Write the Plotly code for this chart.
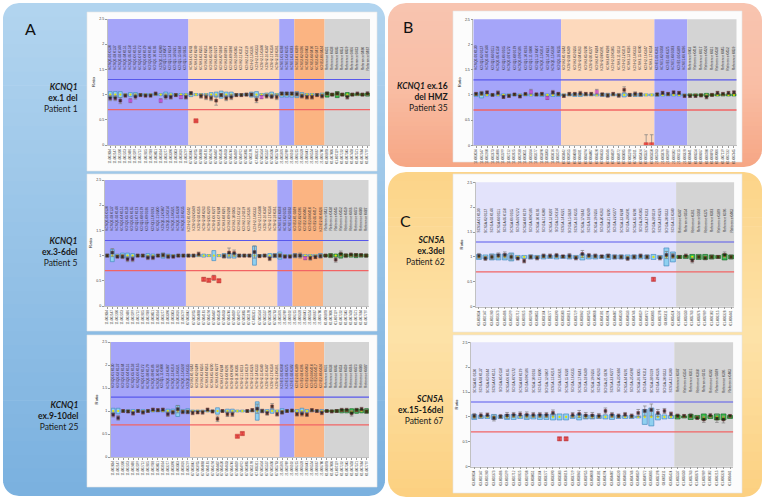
import math
import plotly.graph_objects as go

W, H = 765, 501

# ---------------- data ----------------
KCNQ1_BANDS = ["blue", "peach", "blue", "orange", "gray"]
KCNQ1_COUNTS = [16, 18, 3, 6, 9]
KCNQ1_GENES = ["KCNQ1", "KCNH2", "KCNE1", "KCNE2", "Reference"]
KCNQ1_CHROM = ["11", "07", "21", "21", "01"]

B_BANDS = ["blue", "peach", "blue", "gray"]
B_COUNTS = [16, 17, 6, 9]
B_GENES = ["KCNQ1", "KCNH2", "KCNE1", "Reference"]
B_CHROM = ["11", "07", "21", "01"]

SCN5A_BANDS = ["lavender", "gray"]
SCN5A_COUNTS = [31, 9]
SCN5A_GENES = ["SCN5A", "Reference"]
SCN5A_CHROM = ["03", "01"]

A1_ratio = [0.93, 0.93, 0.88, 0.98, 0.88, 0.96, 0.99, 0.98, 0.98, 1.02, 0.88, 0.96, 0.95, 0.99, 0.95, 0.95,
            1.03, 0.48, 0.97, 0.95, 0.93, 0.88, 0.99, 0.93, 0.95, 0.99, 0.99, 1.00, 1.00, 0.90, 0.95, 0.97, 0.96, 0.95,
            1.02, 1.02, 1.02,
            1.01, 0.97, 0.95, 0.95, 0.99, 0.97,
            1.02, 1.00, 1.02, 1.00, 0.95, 1.00, 1.02, 1.00, 1.02]
A1_err = [0.05, 0.05, 0.06, 0.03, 0.04, 0.05, 0.03, 0.03, 0.03, 0.03, 0.04, 0.05, 0.04, 0.03, 0.03, 0.04,
          0.03, 0.02, 0.04, 0.05, 0.05, 0.09, 0.03, 0.05, 0.05, 0.03, 0.03, 0.03, 0.03, 0.06, 0.03, 0.04, 0.04, 0.05,
          0.03, 0.03, 0.03,
          0.04, 0.04, 0.04, 0.04, 0.03, 0.04,
          0.03, 0.03, 0.03, 0.03, 0.04, 0.03, 0.03, 0.03, 0.04]
A1_box = [0.06, 0.06, 0.06, 0.02, 0.04, 0.04, 0.02, 0.02, 0.02, 0.02, 0.02, 0.05, 0.03, 0.02, 0.02, 0.02,
          0.04, 0.02, 0.02, 0.02, 0.04, 0.05, 0.07, 0.05, 0.05, 0.02, 0.02, 0.02, 0.05, 0.06, 0.02, 0.03, 0.05, 0.02,
          0.05, 0.05, 0.05,
          0.06, 0.04, 0.02, 0.02, 0.02, 0.03,
          0.05, 0.02, 0.06, 0.02, 0.04, 0.02, 0.02, 0.02, 0.03]
A1_red = [17]
A1_mag = [4, 10, 14, 30]

A2_ratio = [1.00, 1.06, 0.98, 0.98, 0.93, 0.93, 1.00, 1.00, 0.96, 0.96, 1.00, 1.01, 0.98, 0.98, 1.00, 1.00,
            1.00, 1.00, 1.03, 0.53, 0.51, 0.56, 0.50, 0.99, 1.06, 1.05, 1.00, 1.00, 1.00, 1.07, 0.99, 1.00, 0.94, 1.00,
            1.00, 0.98, 0.98,
            1.00, 1.00, 0.95, 0.95, 0.97, 0.99,
            1.00, 1.00, 0.92, 1.03, 1.00, 1.02, 1.01, 1.01, 1.00]
A2_err = [0.03, 0.08, 0.03, 0.04, 0.05, 0.05, 0.03, 0.03, 0.04, 0.04, 0.03, 0.04, 0.04, 0.03, 0.03, 0.03,
          0.03, 0.03, 0.04, 0.03, 0.03, 0.05, 0.03, 0.04, 0.09, 0.06, 0.03, 0.03, 0.03, 0.12, 0.03, 0.03, 0.04, 0.03,
          0.04, 0.03, 0.03,
          0.04, 0.05, 0.03, 0.04, 0.03, 0.04,
          0.03, 0.03, 0.05, 0.06, 0.04, 0.03, 0.03, 0.03, 0.03]
A2_box = [0.03, 0.12, 0.03, 0.05, 0.05, 0.04, 0.02, 0.02, 0.04, 0.03, 0.02, 0.05, 0.03, 0.02, 0.02, 0.02,
          0.02, 0.02, 0.02, 0.03, 0.02, 0.10, 0.02, 0.04, 0.05, 0.05, 0.02, 0.02, 0.02, 0.19, 0.02, 0.02, 0.04, 0.04,
          0.07, 0.02, 0.02,
          0.04, 0.03, 0.02, 0.02, 0.02, 0.04,
          0.02, 0.04, 0.03, 0.05, 0.03, 0.03, 0.04, 0.03, 0.03]
A2_red = [19, 20, 21, 22]
A2_mag = [39]

A3_ratio = [0.92, 0.85, 1.00, 0.99, 0.95, 1.00, 0.97, 1.00, 1.03, 1.02, 1.03, 0.93, 0.97, 1.04, 0.98, 0.98,
            0.96, 0.97, 0.97, 1.03, 0.99, 0.83, 1.00, 0.93, 0.93, 0.45, 0.51, 1.00, 1.02, 1.05, 1.00, 0.95, 1.10, 0.93,
            0.97, 1.00, 1.01,
            0.93, 0.94, 0.92, 1.02, 1.00, 0.96,
            1.00, 0.99, 1.00, 1.02, 1.02, 0.95, 1.02, 1.04, 0.99]
A3_err = [0.05, 0.05, 0.03, 0.03, 0.04, 0.03, 0.04, 0.03, 0.03, 0.03, 0.03, 0.05, 0.04, 0.08, 0.04, 0.04,
          0.04, 0.03, 0.04, 0.03, 0.03, 0.06, 0.03, 0.05, 0.05, 0.02, 0.03, 0.03, 0.03, 0.10, 0.04, 0.04, 0.06, 0.04,
          0.04, 0.03, 0.03,
          0.04, 0.05, 0.04, 0.03, 0.03, 0.04,
          0.03, 0.03, 0.03, 0.04, 0.04, 0.06, 0.04, 0.04, 0.04]
A3_box = [0.06, 0.06, 0.02, 0.03, 0.03, 0.02, 0.03, 0.02, 0.02, 0.02, 0.02, 0.04, 0.04, 0.12, 0.03, 0.05,
          0.02, 0.02, 0.02, 0.02, 0.02, 0.07, 0.02, 0.04, 0.04, 0.02, 0.02, 0.02, 0.02, 0.20, 0.03, 0.03, 0.05, 0.02,
          0.05, 0.02, 0.02,
          0.03, 0.06, 0.03, 0.02, 0.02, 0.03,
          0.02, 0.02, 0.03, 0.04, 0.04, 0.05, 0.05, 0.04, 0.05]
A3_red = [25, 26]
A3_mag = []

B_ratio = [1.02, 1.03, 1.05, 1.00, 1.04, 0.96, 0.98, 1.01, 0.97, 1.02, 1.06, 1.01, 1.02, 0.94, 1.05, 1.02,
           0.98, 1.02, 1.02, 1.03, 1.02, 1.02, 1.06, 1.01, 0.99, 1.02, 0.99, 1.10, 1.00, 1.02, 1.01, 0.01, 0.01,
           1.01, 1.04, 1.02, 1.05, 1.04, 0.98,
           0.98, 0.98, 0.99, 0.96, 1.00, 1.04, 1.02, 1.04, 1.05]
B_err = [0.03, 0.04, 0.03, 0.02, 0.04, 0.03, 0.03, 0.02, 0.03, 0.02, 0.05, 0.03, 0.03, 0.03, 0.04, 0.03,
         0.03, 0.03, 0.03, 0.04, 0.03, 0.03, 0.05, 0.03, 0.04, 0.03, 0.04, 0.06, 0.03, 0.04, 0.03, 0.20, 0.20,
         0.03, 0.03, 0.03, 0.03, 0.03, 0.03,
         0.03, 0.03, 0.03, 0.04, 0.03, 0.03, 0.03, 0.03, 0.03]
B_box = [0.03, 0.06, 0.02, 0.02, 0.02, 0.02, 0.02, 0.02, 0.02, 0.02, 0.02, 0.02, 0.03, 0.02, 0.03, 0.03,
         0.02, 0.02, 0.03, 0.03, 0.02, 0.02, 0.02, 0.03, 0.03, 0.02, 0.02, 0.04, 0.02, 0.03, 0.03, 0.02, 0.02,
         0.03, 0.02, 0.02, 0.02, 0.02, 0.02,
         0.02, 0.02, 0.02, 0.03, 0.02, 0.02, 0.02, 0.02, 0.02]
B_red = [31, 32]
B_mag = [10, 13, 22]

C1_ratio = [1.02, 0.97, 1.00, 1.03, 1.04, 1.00, 0.97, 0.92, 1.00, 0.98, 1.02, 1.02, 1.03, 1.01, 1.02, 0.98,
            1.06, 1.03, 1.02, 1.01, 1.02, 1.00, 1.00, 0.97, 1.00, 1.02, 1.00, 0.55, 0.98, 1.04, 1.02,
            1.00, 1.02, 0.93, 1.00, 0.98, 1.00, 1.00, 1.04, 1.00]
C1_err = [0.05, 0.04, 0.05, 0.05, 0.06, 0.06, 0.03, 0.04, 0.04, 0.04, 0.04, 0.04, 0.04, 0.03, 0.05, 0.04,
          0.07, 0.04, 0.04, 0.03, 0.04, 0.04, 0.04, 0.04, 0.04, 0.04, 0.04, 0.03, 0.04, 0.07, 0.05,
          0.03, 0.04, 0.05, 0.04, 0.04, 0.04, 0.03, 0.06, 0.04]
C1_box = [0.05, 0.04, 0.06, 0.06, 0.06, 0.08, 0.03, 0.03, 0.04, 0.03, 0.04, 0.03, 0.04, 0.03, 0.04, 0.03,
          0.06, 0.04, 0.04, 0.03, 0.05, 0.04, 0.04, 0.04, 0.04, 0.04, 0.04, 0.05, 0.03, 0.18, 0.10,
          0.03, 0.03, 0.05, 0.05, 0.05, 0.04, 0.03, 0.06, 0.04]
C1_red = [27]
C1_mag = []

C2_ratio = [1.02, 1.03, 1.04, 0.98, 1.01, 1.03, 1.04, 1.05, 1.04, 1.04, 1.04, 1.04, 1.08, 0.56, 0.56, 1.04,
            1.06, 1.03, 1.03, 1.02, 1.12, 1.04, 1.02, 1.05, 1.02, 1.08, 1.12, 1.14, 1.08, 1.12, 1.06,
            1.02, 1.02, 1.02, 0.98, 0.95, 1.03, 0.97, 0.95, 1.02]
C2_err = [0.05, 0.05, 0.04, 0.06, 0.04, 0.06, 0.05, 0.05, 0.06, 0.05, 0.05, 0.05, 0.06, 0.03, 0.03, 0.05,
          0.07, 0.06, 0.06, 0.05, 0.06, 0.05, 0.04, 0.04, 0.04, 0.07, 0.10, 0.12, 0.07, 0.05, 0.04,
          0.04, 0.03, 0.05, 0.03, 0.06, 0.04, 0.08, 0.07, 0.03]
C2_box = [0.05, 0.03, 0.03, 0.05, 0.03, 0.05, 0.05, 0.03, 0.05, 0.04, 0.05, 0.05, 0.06, 0.06, 0.06, 0.03,
          0.06, 0.04, 0.04, 0.03, 0.04, 0.05, 0.03, 0.03, 0.03, 0.02, 0.15, 0.18, 0.06, 0.04, 0.03,
          0.04, 0.02, 0.05, 0.03, 0.06, 0.03, 0.06, 0.06, 0.03]
C2_red = [13, 14]
C2_mag = []

UPPER_LIMIT = 1.3
LOWER_LIMIT = 0.7
MEDIAN = 1.0
LABEL_LEVEL = 1.47
Y_TICKS = [0, 0.5, 1, 1.5, 2, 2.5]
Y_TICK_TEXT = ["0", "0.5", "1", "1.5", "2", "2.5"]

SIDE_TEXT = [
    "<b><i>KCNQ1</i></b><br><b>ex.1 del</b><br>Patient 1",
    "<b><i>KCNQ1</i></b><br><b>ex.3-6del</b><br>Patient 5",
    "<b><i>KCNQ1</i></b><br><b>ex.9-10del</b><br>Patient 25",
    "<b><i>KCNQ1</i> ex.16</b><br><b>del HMZ</b><br>Patient 35",
    "<b><i>SCN5A</i></b><br><b>ex.3del</b><br>Patient 62",
    "<b><i>SCN5A</i></b><br><b>ex.15-16del</b><br>Patient 67",
]

# ---------------- styling / layout ----------------
BAND_COLORS = {"blue": "#a5a5f9", "peach": "#fdd9bc", "orange": "#fbb482",
               "gray": "#d4d4d4", "lavender": "#e3e3fb"}

panels = [
    dict(ratio=A1_ratio, err=A1_err, box=A1_box, red=A1_red, mag=A1_mag, bands=KCNQ1_BANDS,
         counts=KCNQ1_COUNTS, genes=KCNQ1_GENES, chrom=KCNQ1_CHROM, px=(107.7, 370, 19, 145),
         text_xy=(79, 98)),
    dict(ratio=A2_ratio, err=A2_err, box=A2_box, red=A2_red, mag=A2_mag, bands=KCNQ1_BANDS,
         counts=KCNQ1_COUNTS, genes=KCNQ1_GENES, chrom=KCNQ1_CHROM, px=(104.7, 368.7, 180, 306),
         text_xy=(79, 252)),
    dict(ratio=A3_ratio, err=A3_err, box=A3_box, red=A3_red, mag=A3_mag, bands=KCNQ1_BANDS,
         counts=KCNQ1_COUNTS, genes=KCNQ1_GENES, chrom=KCNQ1_CHROM, px=(110.7, 369, 342, 457),
         text_xy=(79, 416)),
    dict(ratio=B_ratio, err=B_err, box=B_box, red=B_red, mag=B_mag, bands=B_BANDS,
         counts=B_COUNTS, genes=B_GENES, chrom=B_CHROM, px=(473.3, 736.7, 19.3, 145.3),
         text_xy=(449, 97)),
    dict(ratio=C1_ratio, err=C1_err, box=C1_box, red=C1_red, mag=C1_mag, bands=SCN5A_BANDS,
         counts=SCN5A_COUNTS, genes=SCN5A_GENES, chrom=SCN5A_CHROM, px=(475.7, 734.3, 182.3, 306.7),
         text_xy=(446, 251)),
    dict(ratio=C2_ratio, err=C2_err, box=C2_box, red=C2_red, mag=C2_mag, bands=SCN5A_BANDS,
         counts=SCN5A_COUNTS, genes=SCN5A_GENES, chrom=SCN5A_CHROM, px=(471, 733.3, 342.3, 466.7),
         text_xy=(445, 410)),
]


def px2x(x):
    return x / W


def px2y(y):
    return 1 - y / H


def axname(letter, k):
    return letter if k == 1 else f"{letter}{k}"


def rr_inset(y, y0, y1, r):
    if y < y0 + r:
        d = y0 + r - y
    elif y > y1 - r:
        d = y - (y1 - r)
    else:
        return 0.0
    d = min(d, r)
    return r - math.sqrt(max(0.0, r * r - d * d))


def strip_path(x0, x1, y0, y1, r, ya, yb):
    ys = [ya]
    y = math.floor(ya) + 1
    while y < yb:
        ys.append(y)
        y += 1
    ys.append(yb)
    pts = [(x0 + rr_inset(v, y0, y1, r), v) for v in ys]
    pts += [(x1 - rr_inset(v, y0, y1, r), v) for v in reversed(ys)]
    return "M" + "L".join(f"{px2x(a):.5f},{px2y(b):.5f}" for a, b in pts) + "Z"


def grad(stops, t):
    for (t0, c0), (t1, c1) in zip(stops[:-1], stops[1:]):
        if t0 <= t <= t1:
            f = (t - t0) / (t1 - t0) if t1 > t0 else 0
            c = [round(c0[i] + (c1[i] - c0[i]) * f) for i in range(3)]
            return f"rgb({c[0]},{c[1]},{c[2]})"
    c = stops[-1][1]
    return f"rgb({c[0]},{c[1]},{c[2]})"


shapes = []


def gradient_panel(x0, x1, y0, y1, r, stops, n=36):
    for k in range(n):
        ya = y0 + (y1 - y0) * k / n
        yb = min(y1, y0 + (y1 - y0) * (k + 1) / n + 0.7)
        shapes.append(dict(type="path", xref="paper", yref="paper",
                           path=strip_path(x0, x1, y0, y1, r, ya, yb),
                           fillcolor=grad(stops, (k + 0.5) / n), line=dict(width=0),
                           layer="below"))


gradient_panel(3, 385, 3, 496, 16, [(0, (178, 212, 239)), (1, (122, 177, 223))])
gradient_panel(388, 762, 3, 167, 18, [(0, (248, 196, 176)), (0.5, (249, 190, 165)), (1, (246, 166, 132))])
gradient_panel(388, 762, 172, 497, 18, [(0, (252, 212, 136)), (0.5, (253, 226, 168)), (1, (252, 208, 128))])

for (x0, y0, x1, y1) in [(87, 12, 377, 171), (87, 174, 377, 331), (87, 335, 377, 487),
                         (453, 11, 742, 162), (453, 174, 742, 332), (453, 335, 742, 493)]:
    shapes.append(dict(type="rect", xref="paper", yref="paper", x0=px2x(x0), x1=px2x(x1),
                       y0=px2y(y1), y1=px2y(y0), fillcolor="#fcfcfc",
                       line=dict(color="#e4e4e4", width=0.6), layer="below"))

fig = go.Figure()
layout_axes = {}
annotations = []

for i, p in enumerate(panels):
    k = i + 1
    xa, ya = axname("x", k), axname("y", k)
    n = len(p["ratio"])
    idx = list(range(n))
    band_of = []
    top_labels, bot_labels = [], []
    start = 0
    for band, cnt, gene, chrom in zip(p["bands"], p["counts"], p["genes"], p["chrom"]):
        shapes.append(dict(type="rect", xref=xa, yref=f"{ya} domain", x0=start - 0.5,
                           x1=start + cnt - 0.5, y0=0, y1=1, fillcolor=BAND_COLORS[band],
                           line=dict(width=0), layer="below"))
        for j in range(cnt):
            band_of.append(band)
            size_nt = 130 + 7 * (start + j)
            if gene == "Reference":
                top_labels.append(f"Reference {size_nt:04d}")
            else:
                top_labels.append(f"{gene}-{j + 1:02d} {size_nt:04d}")
            bot_labels.append(f"{chrom}-{2034 + 113 * (start + j):06d}")
        start += cnt

    box_fill = ["#35c24e" if b == "gray" else "#8fd0f0" for b in band_of]
    box_line = ["#1b6b2a" if b == "gray" else "#4a8cc0" for b in band_of]
    fig.add_trace(go.Bar(x=idx, y=[2 * v for v in p["box"]], base=[MEDIAN - v for v in p["box"]],
                         width=0.76, marker=dict(color=box_fill, line=dict(color=box_line, width=0.7)),
                         xaxis=xa, yaxis=ya, hoverinfo="skip"))
    fig.add_trace(go.Scatter(x=[-0.5, n - 0.5], y=[UPPER_LIMIT, UPPER_LIMIT], mode="lines",
                             line=dict(color="#5858ec", width=1.2), xaxis=xa, yaxis=ya, hoverinfo="skip"))
    fig.add_trace(go.Scatter(x=[-0.5, n - 0.5], y=[LOWER_LIMIT, LOWER_LIMIT], mode="lines",
                             line=dict(color="#f26464", width=1.3), xaxis=xa, yaxis=ya, hoverinfo="skip"))
    fig.add_trace(go.Scatter(x=idx, y=[MEDIAN] * n, mode="markers",
                             marker=dict(color="#e8e000", size=2.2, symbol="circle"),
                             xaxis=xa, yaxis=ya, hoverinfo="skip"))
    mcol, mline, msize = [], [], []
    for j in idx:
        if j in p["red"]:
            mcol.append("#ee1c1c"); mline.append("#b00000"); msize.append(4.2)
        elif j in p["mag"]:
            mcol.append("#d040d8"); mline.append("#a020a0"); msize.append(3.2)
        else:
            mcol.append("#050000"); mline.append("#700808"); msize.append(2.9)
    fig.add_trace(go.Scatter(x=idx, y=p["ratio"], mode="markers",
                             marker=dict(color=mcol, size=msize, symbol="square",
                                         line=dict(color=mline, width=0.5)),
                             error_y=dict(type="data", array=p["err"], visible=True,
                                          color="#7f7f7f", thickness=0.7, width=1.8),
                             xaxis=xa, yaxis=ya, hoverinfo="skip"))

    # probe names written vertically inside the plot
    for j in idx:
        annotations.append(dict(x=j, y=LABEL_LEVEL, xref=xa, yref=ya, text=top_labels[j],
                                textangle=-90, showarrow=False, xanchor="center",
                                yanchor="bottom", borderpad=0,
                                font=dict(size=3.3, color="#333333", family="Arial")))

    x0p, x1p, y0p, y1p = p["px"]
    ydom = [px2y(y1p), px2y(y0p)]
    layout_axes[axname("xaxis", k)] = dict(
        domain=[px2x(x0p), px2x(x1p)], range=[-0.5, n - 0.5], anchor=ya,
        tickmode="array", tickvals=idx, ticktext=bot_labels, tickangle=-90,
        tickfont=dict(size=3.1, color="#333333", family="Arial"), ticks="outside", ticklen=2,
        tickcolor="#9a9a9a", showline=True, linecolor="#a8a8a8", linewidth=0.7,
        showgrid=False, zeroline=False, automargin=False, fixedrange=True)
    layout_axes[axname("yaxis", k)] = dict(
        domain=ydom, range=[0, 2.5], anchor=xa, tickmode="array", tickvals=Y_TICKS,
        ticktext=Y_TICK_TEXT, tickfont=dict(size=3.6, color="#333333", family="Arial"),
        ticks="outside", ticklen=2, tickcolor="#9a9a9a", showline=True, linecolor="#a8a8a8",
        linewidth=0.7, showgrid=False, zeroline=False, automargin=False, fixedrange=True,
        title=dict(text="Ratio", font=dict(size=4.2, color="#222222", family="Arial"), standoff=3))

    tx, ty = p["text_xy"]
    annotations.append(dict(x=px2x(tx), y=px2y(ty), xref="paper", yref="paper",
                            text=SIDE_TEXT[i], showarrow=False, xanchor="right",
                            yanchor="middle", align="right", borderpad=0,
                            font=dict(size=8.5, color="#1a1a1a", family="Lato")))

for letter, lx, ly in [("A", 30, 29), ("B", 408, 27), ("C", 405, 220)]:
    annotations.append(dict(x=px2x(lx), y=px2y(ly), xref="paper", yref="paper", text=letter,
                            showarrow=False, xanchor="center", yanchor="middle",
                            font=dict(size=16, color="#111111", family="Lato")))

fig.update_layout(width=W, height=H, margin=dict(l=0, r=0, t=0, b=0),
                  paper_bgcolor="white", plot_bgcolor="rgba(0,0,0,0)",
                  showlegend=False, shapes=shapes, annotations=annotations,
                  barmode="overlay", **layout_axes)

fig.write_html("out.html", config={"displayModeBar": False, "staticPlot": True},
               post_script="document.body.style.margin='0px';")
